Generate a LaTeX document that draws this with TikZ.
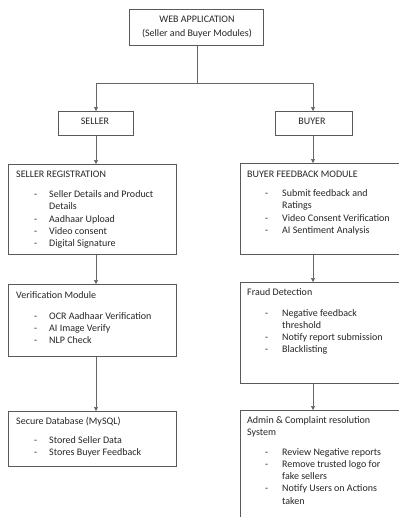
\documentclass[tikz,border=0pt]{standalone}
\usepackage{fontspec}
\setmainfont{Carlito}
\usetikzlibrary{arrows.meta,shadows}
\begin{document}
\begin{tikzpicture}[x=1pt,y=-1pt,
  box/.style={draw=black!65, line width=0.6pt, fill=white, inner sep=0pt, anchor=north west,
    drop shadow={shadow xshift=0.9pt, shadow yshift=-0.9pt, fill=black!35, opacity=0.6}},
  txt/.style={font=\fontsize{10}{12}\selectfont, inner sep=0pt, anchor=base west, text=black!85},
  ctxt/.style={txt, anchor=base},
  arr/.style={draw=black!60, line width=0.6pt, -{Triangle[width=4pt,length=4pt]}},
  ln/.style={draw=black!60, line width=0.6pt}]
\useasboundingbox (0,0) rectangle (399,517);
\clip (0,0) rectangle (399,517);
\fill[white] (0,0) rectangle (399,517);
% boxes
\node[box, minimum width=134pt, minimum height=36pt] (web) at (129,9) {};
\node[box, minimum width=75pt, minimum height=24pt] (seller) at (58,111) {};
\node[box, minimum width=77pt, minimum height=24pt] (buyer) at (275,111) {};
\node[box, minimum width=168pt, minimum height=90pt] (sreg) at (8,164) {};
\node[box, minimum width=170pt, minimum height=91pt] (bfb) at (240,163) {};
\node[box, minimum width=168pt, minimum height=72pt] (ver) at (8,284) {};
\node[box, minimum width=170pt, minimum height=101pt] (fraud) at (240,282) {};
\node[box, minimum width=168pt, minimum height=55pt] (db) at (8,411) {};
\node[box, minimum width=170pt, minimum height=130pt] (admin) at (240,410) {};
% connectors
\coordinate (j) at (197,83);
\coordinate (lx) at (96,0);
\coordinate (rx) at (313,0);
\draw[ln] (web.south -| j) -- (j);
\draw[arr] (j) -- (j -| lx) -- (seller.north -| lx);
\draw[arr] (j) -- (j -| rx) -- (buyer.north -| rx);
\draw[arr] (seller.south -| lx) -- (sreg.north -| lx);
\draw[arr] (sreg.south -| lx) -- (ver.north -| lx);
\draw[arr] (ver.south -| lx) -- (db.north -| lx);
\draw[arr] (buyer.south -| rx) -- (bfb.north -| rx);
\draw[arr] (bfb.south -| rx) -- (fraud.north -| rx);
\draw[arr] (fraud.south -| rx) -- (admin.north -| rx);
% top texts
\node[ctxt] (w1) at (197,22) {WEB APPLICATION};
\node[ctxt] (w2) at (197,36.5) {(Seller and Buyer Modules)};
\node[ctxt] (s1) at (95,124.5) {SELLER};
\node[ctxt] (b1) at (312,124.5) {BUYER};
% seller registration
\node[txt] (sr0) at (16,177.5) {SELLER REGISTRATION};
\node[txt] (sr1d) at (34,197.5) {-};
\node[txt] (sr1) at (49,197.5) {Seller Details and Product};
\node[txt] (sr1b) at (49,209.8) {Details};
\node[txt] (sr2d) at (34,222.1) {-};
\node[txt] (sr2) at (49,222.1) {Aadhaar Upload};
\node[txt] (sr3d) at (34,234.4) {-};
\node[txt] (sr3) at (49,234.4) {Video consent};
\node[txt] (sr4d) at (34,246.7) {-};
\node[txt] (sr4) at (49,246.7) {Digital Signature};
% buyer feedback
\node[txt] (bf0) at (247,177.5) {BUYER FEEDBACK MODULE};
\node[txt] (bf1d) at (265,196.5) {-};
\node[txt] (bf1) at (282,196.5) {Submit feedback and};
\node[txt] (bf1b) at (282,208.8) {Ratings};
\node[txt] (bf2d) at (265,221.1) {-};
\node[txt] (bf2) at (282,221.1) {Video Consent Verification};
\node[txt] (bf3d) at (265,233.4) {-};
\node[txt] (bf3) at (282,233.4) {AI Sentiment Analysis};
% verification
\node[txt] (v0) at (16,298.5) {Verification Module};
\node[txt] (v1d) at (34,319) {-};
\node[txt] (v1) at (49,319) {OCR Aadhaar Verification};
\node[txt] (v2d) at (34,331.3) {-};
\node[txt] (v2) at (49,331.3) {AI Image Verify};
\node[txt] (v3d) at (34,343.6) {-};
\node[txt] (v3) at (49,343.6) {NLP Check};
% fraud
\node[txt] (f0) at (247,295.5) {Fraud Detection};
\node[txt] (f1d) at (265,316) {-};
\node[txt] (f1) at (282,316) {Negative feedback};
\node[txt] (f1b) at (282,328.3) {threshold};
\node[txt] (f2d) at (265,340.6) {-};
\node[txt] (f2) at (282,340.6) {Notify report submission};
\node[txt] (f3d) at (265,352.9) {-};
\node[txt] (f3) at (282,352.9) {Blacklisting};
% database
\node[txt] (d0) at (16,424.5) {Secure Database (MySQL)};
\node[txt] (d1d) at (34,443.5) {-};
\node[txt] (d1) at (49,443.5) {Stored Seller Data};
\node[txt] (d2d) at (34,455.8) {-};
\node[txt] (d2) at (49,455.8) {Stores Buyer Feedback};
% admin
\node[txt] (a0) at (247,423.5) {Admin \& Complaint resolution};
\node[txt] (a0b) at (247,435.8) {System};
\node[txt] (a1d) at (265,455) {-};
\node[txt] (a1) at (282,455) {Review Negative reports};
\node[txt] (a2d) at (265,467.3) {-};
\node[txt] (a2) at (282,467.3) {Remove trusted logo for};
\node[txt] (a2b) at (282,479.6) {fake sellers};
\node[txt] (a3d) at (265,491.9) {-};
\node[txt] (a3) at (282,491.9) {Notify Users on Actions};
\node[txt] (a3b) at (282,504.2) {taken};
\end{tikzpicture}
\end{document}
